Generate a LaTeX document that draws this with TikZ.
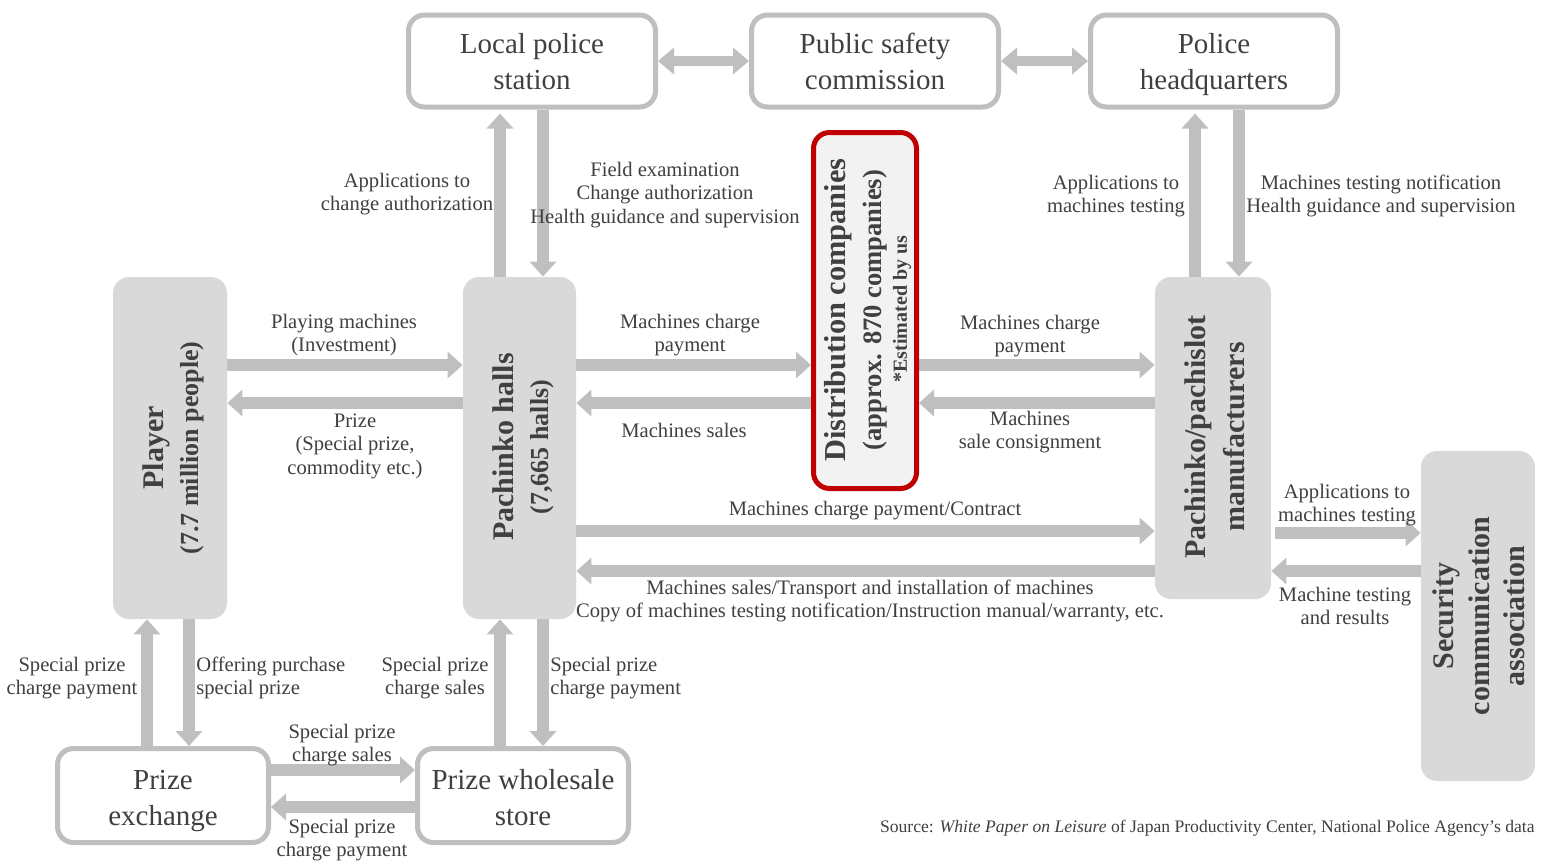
\documentclass[tikz,border=0pt]{standalone}
\usepackage{fontspec}
\setmainfont{Liberation Serif}
\usetikzlibrary{arrows.meta,calc}
\definecolor{txt}{HTML}{404040}
\definecolor{arr}{HTML}{BFBFBF}
\definecolor{boxg}{HTML}{D9D9D9}
\definecolor{distfill}{HTML}{F2F2F2}
\definecolor{redb}{HTML}{C00000}
\pgfdeclarelayer{bg}
\pgfsetlayers{bg,main}
\newcommand{\topstrut}[1]{\rule{0pt}{#1}}
\begin{document}
\begin{tikzpicture}[x=0.5pt,y=-0.5pt,
  wbox/.style={draw=arr, line width=2.5pt, fill=white, rounded corners=8pt, minimum width=123.5pt, minimum height=46pt, inner sep=0pt, text=txt, align=center, font=\fontsize{14.5}{18}\selectfont},
  gbox/.style={fill=boxg, rounded corners=8pt, inner sep=0pt},
  vtext/.style={rotate=90, text=txt, align=center, inner sep=0pt, font=\bfseries\fontsize{15}{17.5}\selectfont},
  lbl/.style={text=txt, align=center, inner sep=0pt, font=\fontsize{10.3}{11.75}\selectfont},
  flow/.style={draw=arr, line width=6pt, -{Triangle[width=13pt,length=7.5pt]}},
  both/.style={draw=arr, line width=5pt, {Triangle[width=13pt,length=8pt]}-{Triangle[width=13pt,length=8pt]}},
]
\useasboundingbox (0,0) rectangle (1543,864);
\begin{pgfonlayer}{bg}
\fill[white] (0,0) rectangle (1543,864);
\end{pgfonlayer}

% boxes
\node[wbox] (lps) at (532,61) {\topstrut{15.6pt}Local police\\station\strut};
\node[wbox] (psc) at (875,61) {\topstrut{15.6pt}Public safety\\commission\strut};
\node[wbox] (phq) at (1214,61) {\topstrut{15.6pt}Police\\headquarters\strut};

\node[gbox, minimum width=57pt, minimum height=171pt] (player) at (170,448) {};
\node[vtext] at (173,448) {Player\\{\fontsize{13}{17.5}\selectfont (7.7 million people)}};

\node[gbox, minimum width=56.5pt, minimum height=171pt] (hall) at (519.5,448) {};
\node[vtext] at (523,447) {Pachinko halls\\{\fontsize{13}{17.5}\selectfont (7,665 halls)}};

\node[gbox, minimum width=58pt, minimum height=161pt] (maker) at (1213,438) {};
\node[vtext, font=\bfseries\fontsize{15}{19.5}\selectfont] at (1215,437) {Pachinko/pachislot\\manufacturers};

\node[gbox, minimum width=57pt, minimum height=165pt] (sca) at (1478,616) {};
\node[vtext, font=\bfseries\fontsize{15}{17.75}\selectfont] at (1479,616) {Security\\communication\\association};

\node[draw=redb, line width=2.5pt, fill=distfill, rounded corners=8pt, minimum width=51.5pt, minimum height=178pt, inner sep=0pt] (dist) at (865,310.5) {};
\node[vtext, font=\bfseries\fontsize{15.2}{17}\selectfont] at (838,310) {Distribution companies};
\node[vtext, font=\bfseries\fontsize{13.3}{15}\selectfont] at (875,310) {(approx. 870 companies)};
\node[vtext, font=\bfseries\fontsize{10}{12}\selectfont] at (902,309) {*Estimated by us};

\node[wbox, minimum width=105.5pt, minimum height=47pt] (pex) at (163,795.5) {\topstrut{17pt}Prize\\exchange\strut};
\node[wbox, minimum width=105.5pt, minimum height=47pt] (pws) at (523,795.5) {\topstrut{17pt}Prize wholesale\\store\strut};

% connectors
\begin{pgfonlayer}{bg}
\draw[both] (lps) -- (psc);
\draw[both] (psc) -- (phq);
\draw[flow] (player.east |- 0,365) -- (hall.west |- 0,365);
\draw[flow] (hall.west |- 0,403) -- (player.east |- 0,403);
\draw[flow] (hall.east |- 0,365) -- (dist.west |- 0,365);
\draw[flow] (dist.west |- 0,403) -- (hall.east |- 0,403);
\draw[flow] (dist.east |- 0,365) -- (maker.west |- 0,365);
\draw[flow] (maker.west |- 0,403) -- (dist.east |- 0,403);
\draw[flow] (hall.east |- 0,531) -- (maker.west |- 0,531);
\draw[flow] (maker.west |- 0,571) -- (hall.east |- 0,571);
\draw[flow] ([xshift=2pt]maker.east |- 0,533) -- (sca.west |- 0,533);
\draw[flow] (sca.west |- 0,571) -- (maker.east |- 0,571);
\draw[flow] (hall.north -| 500,0) -- ([yshift=-2pt]lps.south -| 500,0);
\draw[flow] (lps.south -| 543,0) -- (hall.north -| 543,0);
\draw[flow] (maker.north -| 1195,0) -- ([yshift=-2pt]phq.south -| 1195,0);
\draw[flow] (phq.south -| 1239,0) -- (maker.north -| 1239,0);
\draw[flow] (pex.north -| 147,0) -- (player.south -| 147,0);
\draw[flow] (player.south -| 189,0) -- (pex.north -| 189,0);
\draw[flow] (pws.north -| 500,0) -- (hall.south -| 500,0);
\draw[flow] (hall.south -| 543,0) -- (pws.north -| 543,0);
\draw[flow] (pex.east |- 0,770) -- (pws.west |- 0,770);
\draw[flow] (pws.west |- 0,807) -- (pex.east |- 0,807);
\end{pgfonlayer}

% labels
\node[lbl] (l1) at (407,194) {Applications to\\change authorization};
\node[lbl] (l2) at (665,195) {Field examination\\Change authorization\\Health guidance and supervision};
\node[lbl] (l3) at (1116,196) {Applications to\\machines testing};
\node[lbl] (l4) at (1381,196) {Machines testing notification\\Health guidance and supervision};
\node[lbl] (l5) at (344,335) {Playing machines\\(Investment)};
\node[lbl] (l6) at (355,446) {Prize\\(Special prize,\\commodity etc.)};
\node[lbl] (l7) at (690,335) {Machines charge\\payment};
\node[lbl] (l8) at (684,430) {Machines sales};
\node[lbl] (l9) at (1030,336) {Machines charge\\payment};
\node[lbl] (l10) at (1030,432) {Machines\\sale consignment};
\node[lbl] (l11) at (875,511) {Machines charge payment/Contract};
\node[lbl] (l12) at (870,601) {Machines sales/Transport and installation of machines\\Copy of machines testing notification/Instruction manual/warranty, etc.};
\node[lbl] (l13) at (1347,505) {Applications to\\machines testing};
\node[lbl] (l14) at (1345,606) {Machine testing\\and results};
\node[lbl] (l15) at (72,678) {Special prize\\charge payment};
\node[lbl, anchor=west, align=left] (l16) at (196,678) {Offering purchase\\special prize};
\node[lbl] (l17) at (435,678) {Special prize\\charge sales};
\node[lbl, anchor=west, align=left] (l18) at (550,678) {Special prize\\charge payment};
\node[lbl] (l19) at (342,745) {Special prize\\charge sales};
\node[lbl] (l20) at (342,840) {Special prize\\charge payment};
\node[lbl, anchor=east, font=\fontsize{8.8}{10}\selectfont] (src) at (1535,828) {Source: \textit{White Paper on Leisure} of Japan Productivity Center, National Police Agency’s data};
\end{tikzpicture}
\end{document}
